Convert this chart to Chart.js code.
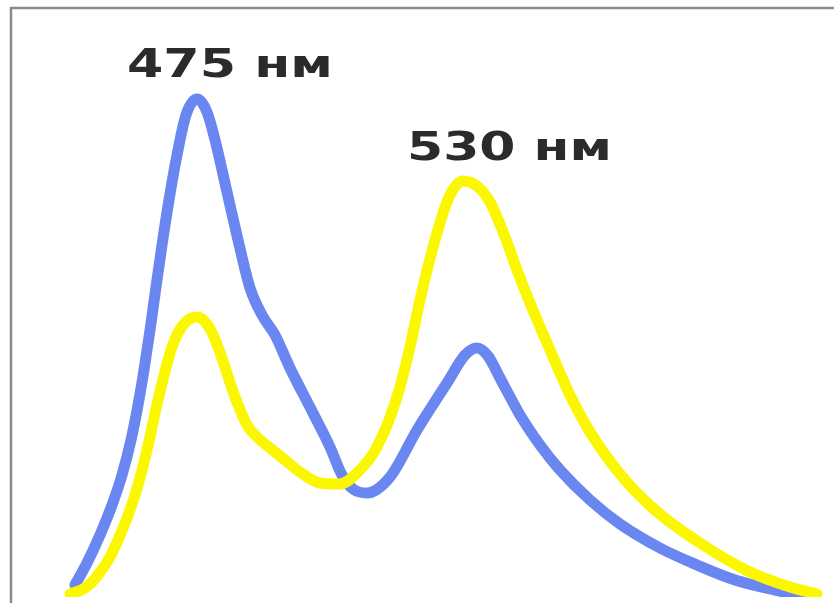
<!DOCTYPE html>
<html>
<head>
<meta charset="utf-8">
<script src="https://cdn.jsdelivr.net/npm/chart.js@4.4.1/dist/chart.umd.min.js"></script>
<style>
  html, body { margin:0; padding:0; background:#fff; }
  #wrap { width:834px; height:603px; position:relative; }
</style>
</head>
<body>
<div id="wrap"><canvas id="c"></canvas></div>
<script>
// wavelength (nm) and relative intensity
const blueNm  = [449.18, 451.69, 454.41, 456.93, 459.02, 460.90, 462.37, 463.62, 464.88, 466.13, 467.39, 468.85, 470.53, 472.41, 474.71, 476.80, 478.48, 480.99, 483.29, 485.80, 488.31, 491.03, 494.17, 498.98, 502.54, 505.05, 507.35, 510.28, 515.10, 520.75, 527.02, 530.79, 533.30, 535.60, 538.11, 542.30, 546.48, 550.67, 556.95, 563.22, 571.59, 579.34, 587.29, 597.33, 600.89];
const blueVal = [0.024, 0.068, 0.124, 0.184, 0.244, 0.314, 0.384, 0.454, 0.534, 0.62, 0.704, 0.794, 0.884, 0.964, 0.996, 0.97, 0.914, 0.81, 0.714, 0.618, 0.564, 0.524, 0.458, 0.368, 0.30, 0.244, 0.216, 0.208, 0.24, 0.334, 0.428, 0.484, 0.498, 0.482, 0.438, 0.364, 0.304, 0.254, 0.194, 0.146, 0.098, 0.064, 0.034, 0.01, 0.002];

const yellowNm  = [448.14, 451.28, 454.00, 456.51, 458.81, 460.69, 462.37, 464.25, 466.55, 469.48, 471.78, 474.71, 477.22, 479.11, 482.66, 485.17, 487.27, 489.99, 493.13, 496.26, 500.45, 504.63, 508.19, 512.38, 516.56, 519.28, 521.37, 524.93, 527.65, 530.37, 533.30, 536.02, 539.16, 541.67, 544.39, 548.58, 552.76, 556.95, 563.22, 570.55, 579.96, 590.43, 598.80, 604.45];
const yellowVal = [0.006, 0.018, 0.044, 0.08, 0.128, 0.174, 0.224, 0.294, 0.394, 0.50, 0.544, 0.56, 0.54, 0.50, 0.40, 0.344, 0.32, 0.298, 0.274, 0.25, 0.228, 0.226, 0.248, 0.30, 0.40, 0.50, 0.594, 0.728, 0.804, 0.832, 0.822, 0.79, 0.72, 0.654, 0.588, 0.494, 0.404, 0.33, 0.246, 0.174, 0.108, 0.05, 0.02, 0.006];

const peakLabels = ["475 нм", "530 нм"];

function pts(xs, ys){ return xs.map((x, i) => ({ x, y: ys[i] })); }

// frame lines and the two peak labels
const decor = {
  id: "decor",
  afterDraw(chart){
    const ctx = chart.ctx;
    ctx.save();
    ctx.strokeStyle = "#8a8a8a";
    ctx.lineWidth = 2.5;
    ctx.beginPath();
    ctx.moveTo(11, 603);
    ctx.lineTo(11, 8);
    ctx.lineTo(834, 8);
    ctx.stroke();

    const spots = [
      { left: 127, base: 77, width: 206 },
      { left: 407, base: 160, width: 205 }
    ];
    ctx.fillStyle = "#2b2b2b";
    ctx.font = "bold 39px 'DejaVu Sans'";
    ctx.textBaseline = "alphabetic";
    peakLabels.forEach((t, i) => {
      const s = spots[i];
      const w = ctx.measureText(t).width;
      ctx.save();
      ctx.translate(s.left, s.base);
      ctx.scale(s.width / w, 1);
      ctx.fillText(t, 0, 0);
      ctx.restore();
    });
    ctx.restore();
  }
};

new Chart(document.getElementById("c"), {
  type: "line",
  data: {
    datasets: [
      {
        label: "530",
        data: pts(yellowNm, yellowVal),
        borderColor: "#fbf700",
        borderWidth: 11,
        pointRadius: 0,
        cubicInterpolationMode: "monotone",
        borderCapStyle: "round",
        borderJoinStyle: "round",
        fill: false
      },
      {
        label: "475",
        data: pts(blueNm, blueVal),
        borderColor: "#6a86f0",
        borderWidth: 11,
        pointRadius: 0,
        cubicInterpolationMode: "monotone",
        borderCapStyle: "round",
        borderJoinStyle: "round",
        fill: false
      }
    ]
  },
  options: {
    responsive: true,
    maintainAspectRatio: false,
    animation: false,
    layout: { padding: { left: 12, top: 8, right: 0, bottom: 6 } },
    plugins: { legend: { display: false }, tooltip: { enabled: false } },
    scales: {
      x: { type: "linear", min: 436, max: 608, display: false },
      y: { min: 0, max: 1.178, display: false }
    }
  },
  plugins: [decor]
});
</script>
</body>
</html>
